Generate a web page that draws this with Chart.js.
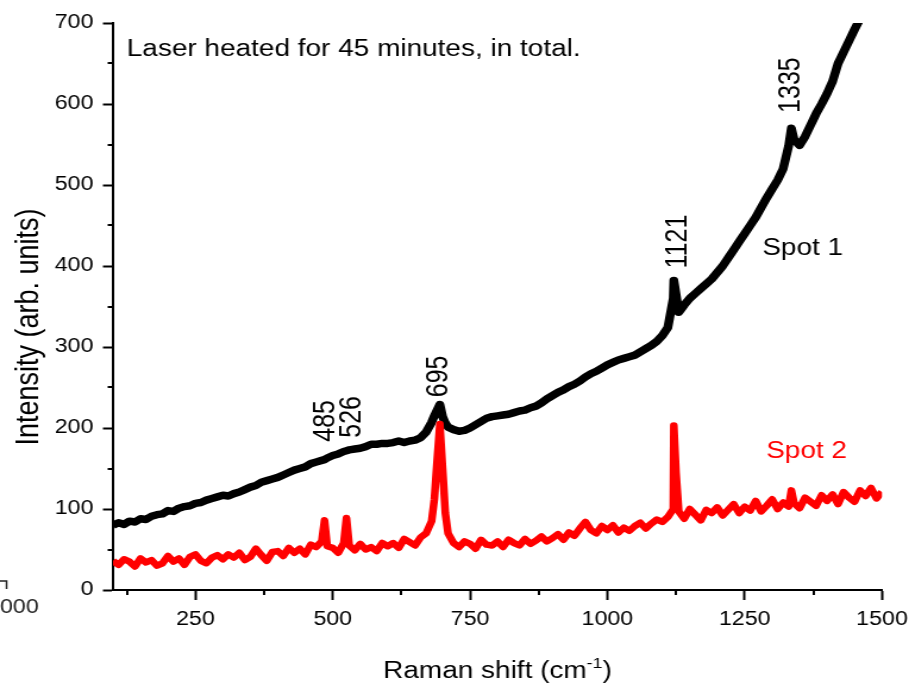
<!DOCTYPE html>
<html>
<head>
<meta charset="utf-8">
<script src="https://cdn.jsdelivr.net/npm/chart.js@4.4.1/dist/chart.umd.min.js"></script>
<style>
  html, body { margin: 0; padding: 0; background: #ffffff; overflow: hidden; }
  #wrap { width: 764px; height: 685px; position: relative; transform: scaleX(1.1898); transform-origin: 0 0; }
</style>
</head>
<body>
<div id="wrap"><canvas id="c"></canvas></div>
<script>
// ---- data ----
const ramanShift = [
  100,110,120,130,140,150,160,170,180,190,
  200,210,220,230,240,250,260,270,280,290,
  300,310,320,330,340,350,360,370,380,390,
  400,410,420,430,440,450,460,470,480,485,490,
  500,510,520,525,530,540,550,560,570,580,590,
  600,610,620,630,640,650,660,670,680,685,690,695,700,705,710,720,730,740,750,760,770,780,790,
  800,810,820,830,840,850,860,870,880,890,900,910,920,930,940,950,960,970,980,990,
  1000,1010,1020,1030,1040,1050,1060,1070,1080,1090,1100,1110,1120,1121,1125,1130,1140,1150,1160,1170,1180,1190,
  1200,1210,1220,1230,1240,1250,1260,1270,1280,1290,1300,1310,1320,1330,1335,1340,1350,1360,1370,1380,1390,
  1400,1410,1420,1430,1440,1450,1460,1470,1480,1490,1500
];
const spot1 = [
  80,83,81,85,84,88,87,91,93,94,
  98,97,101,103,104,107,108,111,113,115,
  117,116,119,121,124,127,129,133,135,137,
  139,142,145,148,150,152,156,158,160,161,163,
  166,168,171,172,173,174,175,177,180,180,181,
  181,182,184,182,184,185,188,195,207,215,222,229,214,206,201,198,196,197,200,204,208,212,214,
  215,216,217,219,221,222,225,227,231,236,240,244,247,251,254,258,263,267,270,274,
  278,281,284,286,288,290,294,298,302,307,314,324,360,382,365,343,352,360,366,372,378,384,
  392,400,410,420,430,440,450,460,472,484,495,506,520,548,570,556,549,560,574,588,600,
  613,628,650,664,678,692,705,720,null,null,null
];
const spot2 = [
  36,31,38,35,29,39,34,37,30,33,
  42,35,39,31,41,44,36,33,40,43,
  38,44,40,46,37,41,51,43,36,47,
  48,42,52,46,51,44,56,53,60,86,54,
  52,46,58,89,55,49,57,50,53,48,58,
  54,58,52,63,59,55,65,70,85,112,160,205,150,95,70,58,53,60,57,51,62,56,55,
  60,53,62,58,55,63,57,61,66,60,64,69,62,71,67,76,84,74,70,79,
  74,80,71,77,73,79,83,76,82,87,84,90,100,203,145,97,88,100,93,86,99,95,
  102,92,99,106,95,103,98,110,97,104,112,100,108,103,123,107,101,114,109,104,117,
  110,118,106,121,114,109,123,116,126,113,121
];
const xMajorTicks = [250, 500, 750, 1000, 1250, 1500];
const xMinorTicks = [125, 375, 625, 875, 1125, 1375];
const yMajorTicks = [0, 100, 200, 300, 400, 500, 600, 700];
const yMinorTicks = [50, 150, 250, 350, 450, 550, 650];
const seriesNames = ['Spot 1', 'Spot 2'];
const peakLabels = ['485', '526', '695', '1121', '1335'];
const peakLabelAt = [[485, 183], [534, 188], [691, 238], [1127, 397], [1333, 589]];
const noteText = 'Laser heated for 45 minutes, in total.';

// ---- styles ----
const FONT = "'Liberation Sans', Arial, Helvetica, sans-serif";
const BLACK = '#000000';
const RED = '#ff0000';

const pts = (ys) => ramanShift.map((x, i) => ({ x: x, y: ys[i] }));

const decor = {
  id: 'decor',
  afterDraw(chart) {
    const { ctx, chartArea } = chart;
    const xs = chart.scales.x, ys = chart.scales.y;
    ctx.save();
    // minor ticks
    ctx.strokeStyle = BLACK;
    ctx.lineWidth = 2;
    xMinorTicks.forEach(v => {
      const px = Math.round(xs.getPixelForValue(v));
      ctx.beginPath(); ctx.moveTo(px, chartArea.bottom); ctx.lineTo(px, chartArea.bottom + 5); ctx.stroke();
    });
    yMinorTicks.forEach(v => {
      const py = Math.round(ys.getPixelForValue(v));
      ctx.beginPath(); ctx.moveTo(chartArea.left, py); ctx.lineTo(chartArea.left - 4.5, py); ctx.stroke();
    });

    // note
    ctx.fillStyle = BLACK;
    ctx.font = `23.5px ${FONT}`;
    ctx.textAlign = 'left';
    ctx.textBaseline = 'alphabetic';
    ctx.fillText(noteText, xs.getPixelForValue(125), ys.getPixelForValue(659));

    // series labels
    ctx.fillText(seriesNames[0], xs.getPixelForValue(1282), ys.getPixelForValue(413));
    ctx.fillStyle = RED;
    ctx.fillText(seriesNames[1], xs.getPixelForValue(1289), ys.getPixelForValue(163));

    // peak labels (rotated)
    ctx.fillStyle = BLACK;
    ctx.font = `25px ${FONT}`;
    peakLabels.forEach((t, i) => {
      const px = xs.getPixelForValue(peakLabelAt[i][0]);
      const py = ys.getPixelForValue(peakLabelAt[i][1]);
      ctx.save();
      ctx.translate(px, py);
      ctx.rotate(-Math.PI / 2);
      ctx.textAlign = 'left';
      ctx.textBaseline = 'middle';
      ctx.fillText(t, 0, 1);
      ctx.restore();
    });

    // x axis title with superscript
    ctx.fillStyle = BLACK;
    const main = 'Raman shift (cm';
    const sup = '-1';
    const close = ')';
    ctx.font = `23.5px ${FONT}`;
    const w1 = ctx.measureText(main).width;
    const w3 = ctx.measureText(close).width;
    ctx.font = `15px ${FONT}`;
    const w2 = ctx.measureText(sup).width;
    const total = w1 + w2 + w3;
    const cx = (chartArea.left + chartArea.right) / 2;
    let sx = cx - total / 2;
    const base = 678;
    ctx.textAlign = 'left';
    ctx.textBaseline = 'alphabetic';
    ctx.font = `23.5px ${FONT}`;
    ctx.fillText(main, sx, base);
    ctx.font = `15px ${FONT}`;
    ctx.fillText(sup, sx + w1, base - 10);
    ctx.font = `23.5px ${FONT}`;
    ctx.fillText(close, sx + w1 + w2, base);

    // y axis title
    ctx.save();
    ctx.translate(24.5, 327);
    ctx.rotate(-Math.PI / 2);
    ctx.font = `27px ${FONT}`;
    ctx.textAlign = 'center';
    ctx.textBaseline = 'middle';
    ctx.fillText('Intensity (arb. units)', 0, 0);
    ctx.restore();

    // fragment of a neighbouring figure at the lower left edge
    ctx.strokeStyle = '#222';
    ctx.lineWidth = 1.5;
    ctx.beginPath(); ctx.moveTo(0, 581); ctx.lineTo(5.5, 581); ctx.lineTo(5.5, 589); ctx.stroke();
    ctx.fillStyle = '#222';
    ctx.font = `19.5px ${FONT}`;
    ctx.textAlign = 'left';
    ctx.fillText('000', 0, 613);
    ctx.restore();
  }
};

new Chart(document.getElementById('c'), {
  type: 'line',
  data: {
    datasets: [
      { label: seriesNames[1], data: pts(spot2), borderColor: RED, backgroundColor: RED,
        borderWidth: 6.5, pointRadius: 0, tension: 0, borderJoinStyle: 'round', order: 0 },
      { label: seriesNames[0], data: pts(spot1), borderColor: BLACK, backgroundColor: BLACK,
        borderWidth: 7.5, pointRadius: 0, tension: 0, borderJoinStyle: 'round', order: 1, spanGaps: false }
    ]
  },
  options: {
    responsive: true,
    maintainAspectRatio: false,
    animation: false,
    devicePixelRatio: 1,
    layout: { padding: { top: 23, right: 22.7, left: 0, bottom: 0 } },
    plugins: { legend: { display: false }, tooltip: { enabled: false }, title: { display: false } },
    scales: {
      x: {
        type: 'linear', min: 100, max: 1500,
        afterBuildTicks: s => { s.ticks = xMajorTicks.map(v => ({ value: v })); },
        afterFit: s => { s.height = 95; s.paddingLeft = 0; s.paddingRight = 0; },
        grid: { display: true, drawOnChartArea: false, drawTicks: true, tickLength: 10, tickWidth: 2, tickColor: BLACK },
        border: { display: true, color: BLACK, width: 2 },
        ticks: { color: BLACK, font: { family: FONT, size: 19.5 }, padding: 8, maxRotation: 0, autoSkip: false,
                 callback: v => String(v) }
      },
      y: {
        type: 'linear', min: 0, max: 700,
        afterBuildTicks: s => { s.ticks = yMajorTicks.map(v => ({ value: v })); },
        afterFit: s => { s.width = 95; s.paddingTop = 0; s.paddingBottom = 0; },
        grid: { display: true, drawOnChartArea: false, drawTicks: true, tickLength: 8.5, tickWidth: 2, tickColor: BLACK },
        border: { display: true, color: BLACK, width: 2 },
        ticks: { color: BLACK, font: { family: FONT, size: 19.5 }, padding: 8, autoSkip: false,
                 callback: v => String(v) }
      }
    }
  },
  plugins: [decor]
});
</script>
</body>
</html>
